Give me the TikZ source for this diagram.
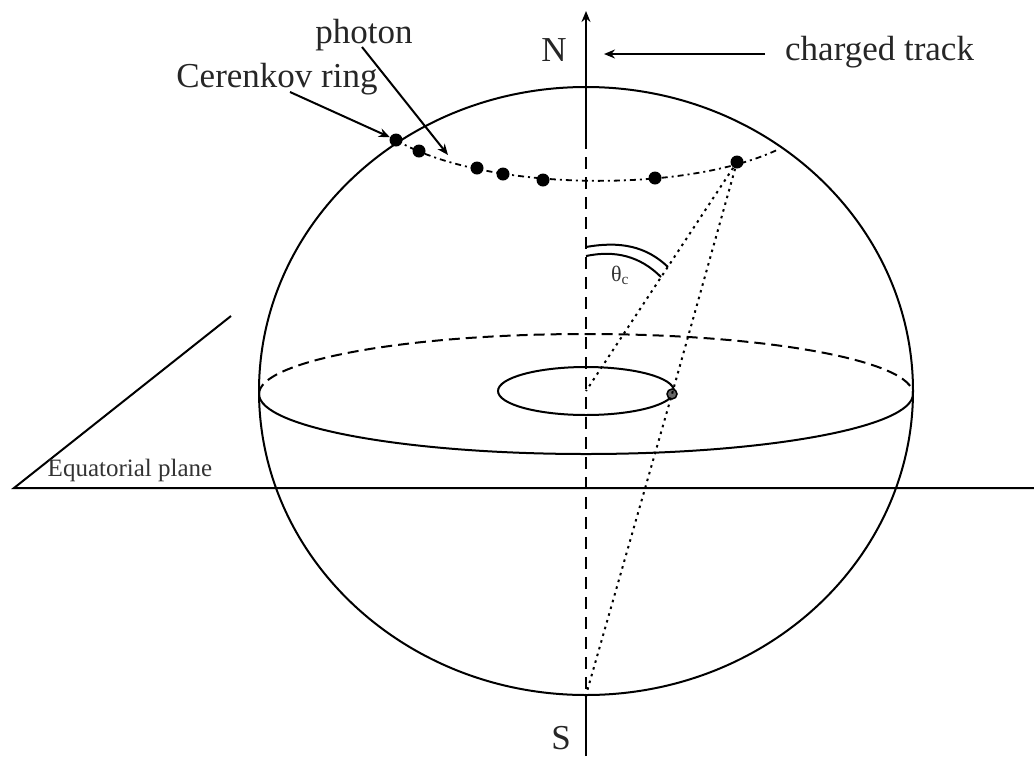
\documentclass[tikz,border=0pt]{standalone}
\usepackage{amsmath}
\usepackage{fontspec}
\setmainfont{Liberation Serif}
\usepackage{tikz}
\usetikzlibrary{arrows.meta}
\tikzset{
    line/.style={line width=2pt},
    axisdash/.style={line width=2pt, dash pattern=on 12pt off 8pt},
    planedash/.style={line width=2pt, dash pattern=on 11pt off 6pt},
    ringdash/.style={line width=1.8pt, dash pattern=on 6pt off 4pt on 2pt off 4pt},
    ray/.style={line width=2pt, dash pattern=on 2.5pt off 4.5pt},
    pointer/.style={line width=2pt, -{Stealth[length=11pt,width=9pt]}},
    hit/.style={circle, fill=black, inner sep=0pt, minimum size=13pt},
    bigtext/.style={font=\fontsize{35}{37}\selectfont, inner sep=0pt, text=black!85},
}

\begin{document}
\begin{tikzpicture}[x=1pt,y=-1pt]
\useasboundingbox (0,0) rectangle (1034,756);

% Sphere and equator
\draw[line] (586,391) ellipse [x radius=327, y radius=304];
\draw[line] (259,394) arc [start angle=180, end angle=0, x radius=327, y radius=60];
\draw[planedash] (259,394) arc [start angle=180, end angle=360, x radius=327, y radius=60];

% Small circle round the axis
\draw[line] (586,391) ellipse [x radius=88, y radius=24];

% Equatorial plane
\coordinate (planecorner) at (14,488);
\coordinate (planeright) at (1034,488);
\coordinate (planeback) at (231,316);
\draw[line] (planeback) -- (planecorner) -- (planeright);
\node[font=\fontsize{25}{27}\selectfont, inner sep=0pt, text=black!80] (planelabel) at (130,470) {Equatorial plane};

% Track axis
\coordinate (trackbottom) at (586,756);
\coordinate (south) at (586,695);
\coordinate (axisbreak) at (586,137);
\coordinate (tracktop) at (586,11);
\coordinate (centre) at (586,391);
\draw[axisdash] (axisbreak) -- (south);
\draw[line] (trackbottom) -- (south);
\draw[pointer] (axisbreak) -- (tracktop);
\node[bigtext] (northlabel) at (554,50) {N};
\node[bigtext] (southlabel) at (561,738) {S};

% Ring on the sphere
\draw[ringdash] (396,140) .. controls (480,190) and (680,195) .. (777,150);
\node[hit] (ringa) at (396,140) {};
\node[hit] (ringb) at (419,151) {};
\node[hit] (ringc) at (477,168) {};
\node[hit] (ringd) at (503,174) {};
\node[hit] (ringe) at (543,180) {};
\node[hit] (ringf) at (655,178) {};
\node[hit] (ringg) at (737,162) {};
\node[circle, draw, fill=black!60, line width=1.5pt, inner sep=0pt, minimum size=10pt] (image) at (672,394) {};

% Rays
\draw[ray] (ringg.center) -- (centre);
\draw[ray] (ringg.center) -- (image.center) -- (south);

% Angle
\coordinate (outera) at (586,247);
\coordinate (outerb) at (668,267);
\coordinate (innera) at (586,256);
\coordinate (innerb) at (661,277);
\draw[line] (outera) .. controls (620,241) and (646,246) .. (outerb);
\draw[line] (innera) .. controls (615,250) and (640,256) .. (innerb);
\node[font=\fontsize{22}{24}\selectfont, inner sep=0pt, text=black!80] (anglelabel) at (620,275) {θ\textsubscript{c}};

% Labels with arrows
\node[bigtext] (photonlabel) at (364,35) {photon};
\node[bigtext] (ringlabel) at (277,79) {Cerenkov ring};
\node[bigtext, anchor=west] (tracklabel) at (785,52) {charged track};
\coordinate (photontail) at (362,47);
\coordinate (photonhead) at (448,155);
\coordinate (ringtail) at (290,92);
\coordinate (tracktail) at (765,54);
\coordinate (trackhead) at (604,54);
\draw[pointer] (photontail) -- (photonhead);
\draw[pointer] (ringtail) -- (ringa);
\draw[pointer] (tracktail) -- (trackhead);

\end{tikzpicture}
\end{document}
